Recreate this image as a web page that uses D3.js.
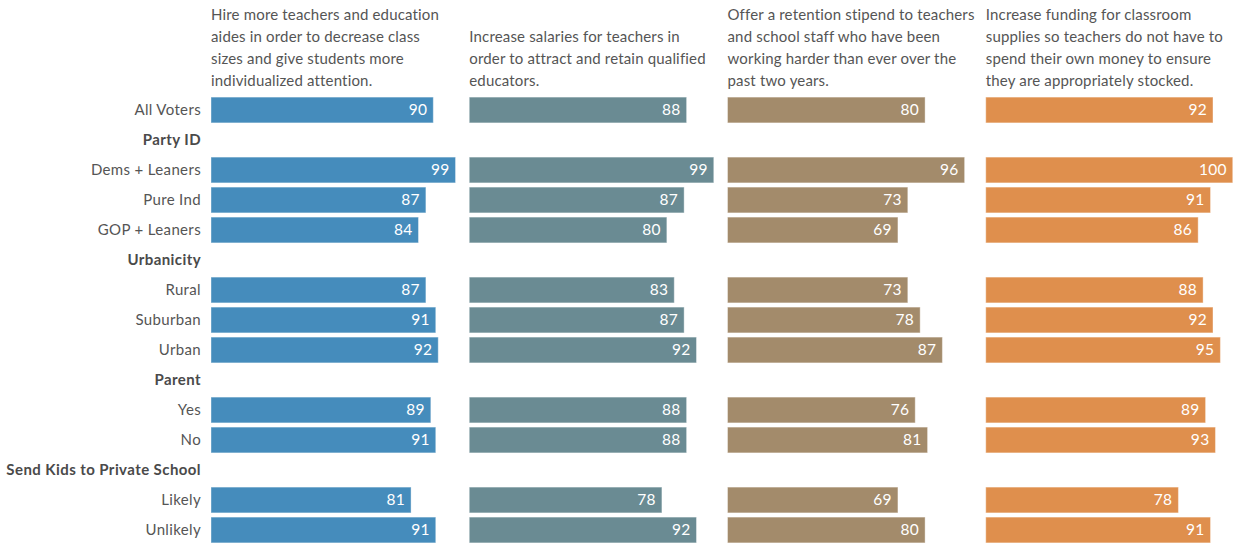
<!DOCTYPE html>
<html>
<head>
<meta charset="utf-8">
<script src="https://cdn.jsdelivr.net/npm/d3@7"></script>
<style>
  body { margin: 0; background: #fff; }
  svg { font-family: Lato, "Open Sans", sans-serif; }
</style>
</head>
<body>
<svg id="chart" width="1237" height="544"></svg>
<script>
// row labels, group rows have no values
var rows = ["All Voters", "Party ID", "Dems + Leaners", "Pure Ind", "GOP + Leaners",
  "Urbanicity", "Rural", "Suburban", "Urban", "Parent", "Yes", "No",
  "Send Kids to Private School", "Likely", "Unlikely"];
var groups = ["Party ID", "Urbanicity", "Parent", "Send Kids to Private School"];

var headers = [
  ["Hire more teachers and education", "aides in order to decrease class", "sizes and give students more", "individualized attention."],
  ["Increase salaries for teachers in", "order to attract and retain qualified", "educators."],
  ["Offer a retention stipend to teachers", "and school staff who have been", "working harder than ever over the", "past two years."],
  ["Increase funding for classroom", "supplies so teachers do not have to", "spend their own money to ensure", "they are appropriately stocked."]
];

// values per column, null for group header rows
var hireTeachers  = [90, null, 99, 87, 84, null, 87, 91, 92, null, 89, 91, null, 81, 91];
var raiseSalaries = [88, null, 99, 87, 80, null, 83, 87, 92, null, 88, 88, null, 78, 92];
var stipend       = [80, null, 96, 73, 69, null, 73, 78, 87, null, 76, 81, null, 69, 80];
var supplies      = [92, null, 100, 91, 86, null, 88, 92, 95, null, 89, 93, null, 78, 91];

var series = [hireTeachers, raiseSalaries, stipend, supplies];
var colors = ["#458cbc", "#6a8b93", "#a38b6b", "#df8f4d"];

var svg = d3.select("#chart");

var y = d3.scaleBand().domain(rows).range([95, 545]).paddingInner(0.14).paddingOuter(0.07);
var col = d3.scaleBand().domain(d3.range(4)).range([211, 1244]).paddingInner(0);
var x = d3.scaleLinear().domain([0, 100]).range([0, 247]);

// row labels
svg.append("g").selectAll("text")
  .data(rows)
  .enter().append("text")
    .attr("x", 201)
    .attr("y", function(d) { return y(d) + y.bandwidth() / 2; })
    .attr("dy", "0.35em")
    .attr("text-anchor", "end")
    .attr("font-size", 15)
    .attr("letter-spacing", function(d) { return groups.indexOf(d) >= 0 ? 0.42 : 0.35; })
    .attr("font-weight", function(d) { return groups.indexOf(d) >= 0 ? 700 : 400; })
    .attr("fill", function(d) { return groups.indexOf(d) >= 0 ? "#4a4a4a" : "#555"; })
    .text(function(d) { return d; });

series.forEach(function(vals, i) {
  var g = svg.append("g").attr("transform", "translate(" + col(i) + ",0)");

  // header, bottom aligned
  var lines = headers[i];
  g.append("text")
    .attr("font-size", 15)
    .attr("letter-spacing", 0.17)
    .attr("fill", "#555")
    .selectAll("tspan")
    .data(lines)
    .enter().append("tspan")
      .attr("x", 0)
      .attr("y", function(d, j) { return 20 + (4 - lines.length + j) * 22; })
      .text(function(d) { return d; });

  var data = rows.map(function(r, j) { return {row: r, v: vals[j]}; })
    .filter(function(d) { return d.v != null; });

  g.selectAll("rect")
    .data(data)
    .enter().append("rect")
      .attr("x", 0)
      .attr("y", function(d) { return y(d.row); })
      .attr("width", function(d) { return x(d.v); })
      .attr("height", y.bandwidth())
      .attr("fill", colors[i])
      .attr("stroke", "#fff")
      .attr("stroke-opacity", 0.4)
      .attr("stroke-width", 1);

  g.selectAll("text.val")
    .data(data)
    .enter().append("text")
      .attr("class", "val")
      .attr("x", function(d) { return x(d.v) - 6; })
      .attr("y", function(d) { return y(d.row) + y.bandwidth() / 2; })
      .attr("dy", "0.35em")
      .attr("text-anchor", "end")
      .attr("font-size", 15.5)
      .attr("letter-spacing", 0.3)
      .attr("fill", "#fff")
      .text(function(d) { return d.v; });
});
</script>
</body>
</html>
